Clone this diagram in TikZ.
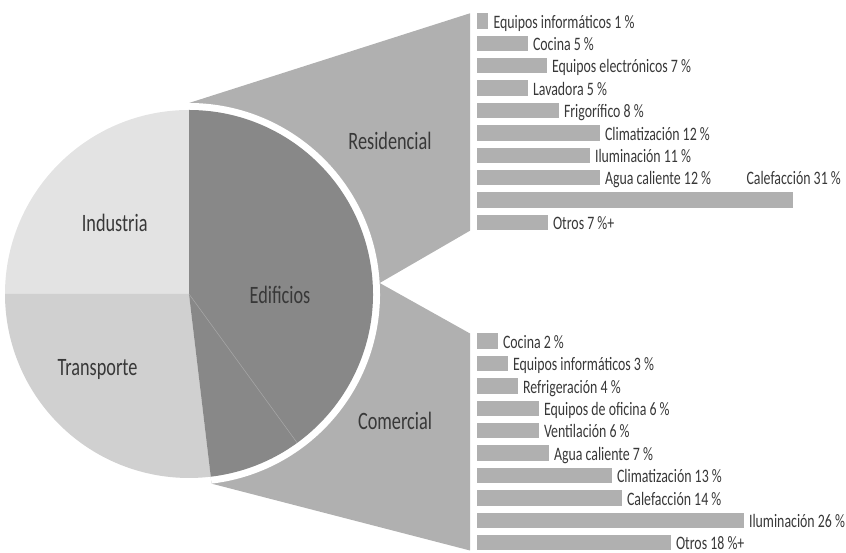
\documentclass[tikz,border=0pt]{standalone}
\usepackage{fontspec}
\setmainfont{Carlito}[FakeStretch=0.73]
\usetikzlibrary{calc}
\definecolor{cInd}{HTML}{E3E3E3}
\definecolor{cTra}{HTML}{D0D0D0}
\definecolor{cEdi}{HTML}{888888}
\definecolor{cSub}{HTML}{B0B0B0}
\definecolor{cTxt}{HTML}{383838}
\definecolor{cSep}{HTML}{A8A8A8}
\begin{document}
\begin{tikzpicture}[x=1pt,y=1pt,
  bar/.style={fill=cSub, inner sep=0pt, outer sep=0pt, minimum height=15.3pt, anchor=north west},
  lbl/.style={text=cTxt, inner sep=0pt, outer sep=0pt, text depth=0pt, anchor=base west, font=\fontsize{19}{19}\selectfont},
  big/.style={text=cTxt, inner sep=0pt, anchor=base, font=\fontsize{25}{25}\selectfont}]
\useasboundingbox (0,0) rectangle (846,553);
\coordinate (C) at (189,259);
\coordinate (Rtop) at ([shift={(90:191)}]C);
\coordinate (Apex) at ([shift={(3.3:191)}]C);
\coordinate (Cbot) at ([shift={(-83.2:191)}]C);
\coordinate (R1) at (470,539.7);
\coordinate (R2) at (470,322.3);
\coordinate (K1) at (470,219.5);
\coordinate (K2) at (470,2.5);
% exploded sub-sectors
\fill[cSub] (C) -- (Rtop) -- (R1) -- (R2) -- (Apex) -- cycle;
\fill[cSub] (C) -- (Apex) -- (K1) -- (K2) -- (Cbot) -- cycle;
% white rim
\fill[white] (C) -- (Cbot) arc[start angle=-83.2, end angle=90, radius=191] -- cycle;
% pie
\fill[cInd] (C) -- ([shift={(90:184)}]C) arc[start angle=90, end angle=180, radius=184] -- cycle;
\fill[cTra] (C) -- ([shift={(180:184)}]C) arc[start angle=180, end angle=276.8, radius=184] -- cycle;
\fill[cEdi] (C) -- ([shift={(-83.2:184)}]C) arc[start angle=-83.2, end angle=90, radius=184] -- cycle;
\draw[cSep, line width=0.5pt] (C) -- ([shift={(-54:184)}]C);
% big labels
\node[big] (ind) at (114.7,321.3) {Industria};
\node[big] (tra) at (97.5,177) {Transporte};
\node[big] (edi) at (280,249) {Edificios};
\node[big] (res) at (390,403) {Residencial};
\node[big] (com) at (395,123.7) {Comercial};
% residential bars
\foreach \i/\w/\t in {0/11.5/{Equipos informáticos 1 \%},1/51/{Cocina 5 \%},2/70/{Equipos electrónicos 7 \%},3/51/{Lavadora 5 \%},4/82/{Frigorífico 8 \%},5/123/{Climatización 12 \%},6/113/{Iluminación 11 \%},7/123/{Agua caliente 12 \%},9/71/{Otros 7 \%+}}{
  \node[bar, minimum width=\w] (r\i) at (476.5,539.7-22.4*\i) {};
  \node[lbl] (rl\i) at ([xshift=5.5pt,yshift=0.5pt]r\i.south east) {\t};
}
\node[bar, minimum width=316] (r8) at (476.5,539.7-22.4*8) {};
\coordinate (k8) at ([xshift=-46pt]r8.east);
\node[lbl] (rl8) at ([yshift=0.5pt]k8 |- r7.south) {Calefacción 31 \%};
% commercial bars
\foreach \i/\w/\t in {0/21/{Cocina 2 \%},1/31/{Equipos informáticos 3 \%},2/41/{Refrigeración 4 \%},3/62/{Equipos de oficina 6 \%},4/62/{Ventilación 6 \%},5/72/{Agua caliente 7 \%},6/135/{Climatización 13 \%},7/145/{Calefacción 14 \%},8/267/{Iluminación 26 \%},9/194/{Otros 18 \%+}}{
  \node[bar, minimum width=\w] (c\i) at (476.5,219.5-22.4*\i) {};
  \node[lbl] (cl\i) at ([xshift=5.5pt,yshift=0.5pt]c\i.south east) {\t};
}
\end{tikzpicture}
\end{document}
